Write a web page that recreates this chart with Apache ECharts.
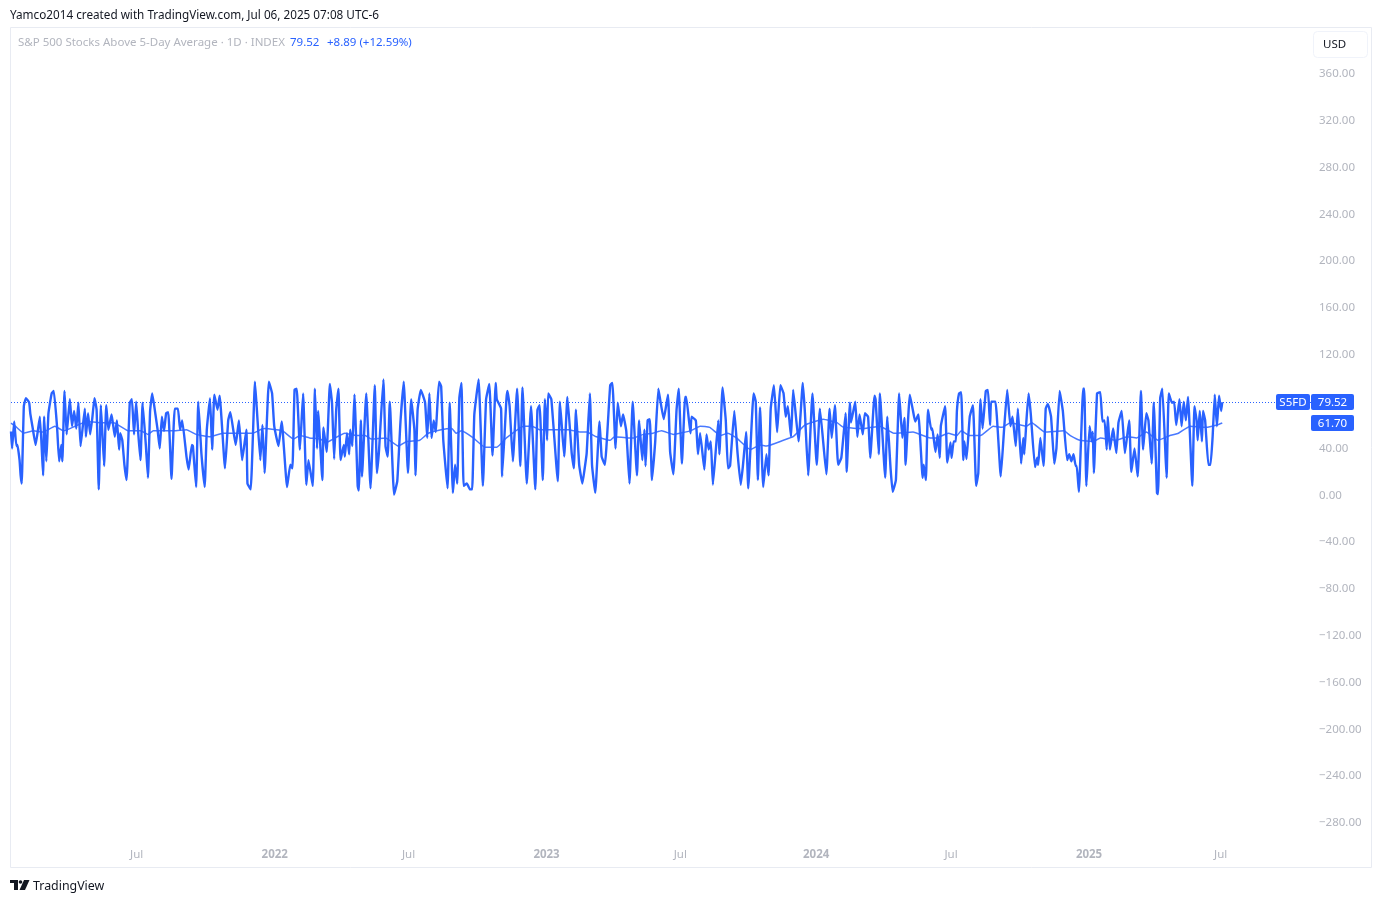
<!DOCTYPE html>
<html>
<head>
<meta charset="utf-8">
<style>html,body{margin:0;padding:0;background:#fff}#c{width:1382px;height:903px}</style>
<script src="https://cdn.jsdelivr.net/npm/echarts@6/dist/echarts.min.js"></script>
</head>
<body>
<div id="c"></div>
<script>
// [trading session number, % of stocks above the 5-day average]
const closePoints = [[0,54.5],[1,40],[3,63],[5,42],[6,43],[8,30],[9,17],[10,10],[12,76],[14,83],[17,79],[18,70],[20,59],[23,43],[27,67],[30,17],[31,67],[33,29],[35,70],[38,87],[40,89],[43,59],[45,29],[47,43],[48,29],[50,89],[52,52],[55,82],[57,59],[59,72],[61,57],[63,79],[65,42],[69,74],[70,50],[72,70],[74,52],[76,66],[78,83],[80,73],[82,5],[84,77],[87,25],[89,77],[91,56],[94,69],[97,50],[99,64],[101,39],[102,53],[104,47],[106,26],[108,13],[111,79],[113,82],[115,52],[117,80],[119,52],[121,30],[123,79],[126,43],[128,15],[130,72],[132,87],[135,69],[137,56],[139,40],[141,67],[143,55],[145,70],[147,71],[150,14],[153,74],[156,74],[158,56],[160,64],[164,33],[166,22],[169,43],[170,42],[173,7],[175,80],[178,35],[181,7],[183,56],[186,83],[188,39],[190,86],[193,73],[195,85],[200,23],[203,64],[205,71],[210,43],[213,64],[216,30],[220,56],[221,10],[224,5],[228,97],[230,70],[233,30],[235,60],[237,19],[241,97],[244,87],[246,59],[250,42],[253,63],[258,7],[261,26],[263,23],[265,90],[267,91],[270,39],[273,87],[276,9],[278,30],[282,8],[284,91],
[286,40],[287,72],[291,13],[292,58],[295,37],[298,95],[300,79],[302,31],[304,74],[306,91],[308,30],[311,43],[312,33],[314,53],[316,35],[317,56],[319,42],[321,86],[324,8],[325,4],[327,64],[328,16],[332,87],[336,6],[340,94],[342,19],[344,39],[348,99],[350,42],[352,33],[354,80],[358,0.5],[361,12],[364,63],[367,97],[371,19],[374,82],[377,56],[378,17],[380,73],[383,90],[387,79],[389,49],[391,87],[393,49],[395,64],[397,54],[398,69],[400,97],[402,93],[404,47],[408,6],[410,79],[413,2],[415,26],[417,10],[419,83],[421,96],[423,8],[426,10],[429,5],[431,5],[433,69],[437,99],[441,8],[444,82],[447,95],[450,34],[453,96],[454,82],[458,74],[459,16],[463,82],[464,89],[466,76],[469,29],[473,91],[476,25],[478,92],[482,10],[486,76],[490,5],[492,73],[494,77],[497,13],[499,82],[501,47],[502,87],[505,82],[511,12],[513,80],[517,33],[520,84],[524,36],[526,23],[528,73],[531,26],[534,10],[536,22],[538,36],[541,87],[543,26],[546,2],[550,63],[552,33],[555,26],[560,94],[562,96],[565,40],[567,79],[570,59],[572,69],[575,55],[578,10],
[581,80],[585,17],[587,64],[590,30],[592,56],[593,25],[595,64],[597,65],[599,13],[602,45],[605,91],[607,80],[610,65],[614,86],[616,37],[619,18],[622,73],[624,91],[627,27],[630,84],[631,84],[635,53],[636,67],[640,64],[642,35],[644,53],[648,22],[650,52],[652,39],[654,46],[656,9],[661,64],[662,35],[665,92],[668,64],[670,23],[672,25],[676,72],[679,36],[682,9],[684,25],[687,54],[689,6],[694,87],[696,80],[698,13],[700,75],[703,7],[706,35],[708,17],[710,74],[713,94],[716,54],[719,94],[722,87],[724,67],[726,76],[729,50],[731,90],[736,46],[740,96],[742,70],[745,17],[749,87],[753,26],[756,74],[762,18],[765,74],[767,49],[770,77],[773,26],[776,32],[780,70],[781,20],[784,79],[785,62],[789,80],[791,50],[793,69],[796,52],[798,70],[801,67],[803,32],[807,85],[808,82],[811,35],[812,87],[817,15],[819,67],[822,23],[824,3],[827,13],[830,87],[833,49],[835,66],[836,26],[840,86],[843,72],[845,63],[848,69],[852,15],[853,26],[855,13],[857,73],[860,56],[861,57],[864,37],[866,52],[868,32],
[869,59],[873,76],[875,28],[878,45],[879,32],[881,46],[883,46],[884,72],[886,87],[888,88],[890,30],[891,46],[893,31],[896,67],[899,77],[902,8],[904,19],[906,82],[908,57],[911,89],[913,90],[915,60],[916,80],[920,80],[925,16],[928,55],[931,90],[934,59],[936,67],[939,42],[941,74],[944,27],[946,49],[947,35],[949,64],[951,87],[953,70],[957,24],[959,32],[960,26],[962,49],[965,25],[967,74],[969,78],[972,67],[975,27],[977,40],[980,89],[983,72],[987,30],[989,35],[991,29],[993,35],[995,25],[996,25],[998,3],[1002,91],[1003,91],[1005,8],[1008,59],[1010,46],[1011,54],[1012,19],[1015,87],[1018,88],[1020,63],[1022,64],[1024,39],[1025,67],[1027,39],[1030,57],[1031,50],[1033,36],[1035,62],[1038,72],[1041,36],[1045,64],[1047,20],[1050,40],[1053,16],[1056,89],[1058,39],[1061,70],[1063,64],[1066,27],[1068,79],[1071,2],[1072,1],[1074,83],[1076,91],[1079,33],[1080,15],[1082,87],[1085,79],[1087,80],[1089,60],[1092,82],[1094,59],[1096,80],[1098,64],[1100,84],[1104,8],[1106,76],[1108,64],[1109,47],[1111,72],[1113,46],[1114,72],[1116,64],[1119,26],[1121,26],[1123,50],[1125,86],[1127,59],[1129,85],[1131,72],[1132,79.52]];

const averagePoints = [[0,61.6],[4,59],[12,53],[21,55],[30,54],[41,59],[49,55],[60,59],[71,63],[83,62],[96,62],[110,55],[121,55],[128,52],[133,55],[152,55],[164,56],[173,52],[186,50],[198,53],[226,53],[236,57],[248,56],[254,55],[264,48],[270,51],[279,49],[289,48],[295,45],[301,48],[312,53],[323,51],[331,51],[337,48],[350,49],[362,42],[370,46],[382,47],[390,53],[402,56],[412,57],[416,53],[421,55],[432,49],[443,41],[454,41],[463,49],[479,59],[487,59],[494,56],[521,56],[532,54],[538,54],[547,50],[560,47],[564,50],[577,49],[582,49],[591,52],[600,53],[608,55],[619,52],[635,55],[644,59],[653,58],[663,51],[670,53],[678,49],[691,39],[700,43],[706,42],[722,47],[731,50],[742,60],[759,65],[772,62],[778,58],[797,57],[812,59],[825,53],[843,54],[859,49],[865,49],[876,53],[884,51],[888,55],[896,51],[906,51],[918,59],[926,58],[934,62],[949,59],[954,62],[966,54],[984,55],[990,51],[999,47],[1012,46],[1018,49],[1033,47],[1043,50],[1052,49],[1061,54],[1072,47],[1083,51],[1091,53],[1102,59],[1117,58],[1127,60],[1132,61.7]];

const xTickSessions = [117.5,246.5,371.5,500.5,625.5,752.5,878.5,1007.5,1130.5];
const xTickLabels = ['Jul','2022','Jul','2023','Jul','2024','Jul','2025','Jul'];
const yTicks = [-280,-240,-200,-160,-120,-80,-40,0,40,120,160,200,240,280,320,360];
const lastClose = 79.52;
const lastAverage = 61.70;
const ticker = 'S5FD';

const FONT = '"Noto Sans", sans-serif';
const SIZE = 11.5;
const BLUE = '#2962ff';
const GREY = '#b2b5be';
const chart = echarts.init(document.getElementById('c'), null, {renderer:'canvas'});

function tag(xLeft, width, y, text){
  return [
    {type:'rect', z:100, shape:{x:xLeft, y:y-8, width:width, height:16, r:2}, style:{fill:BLUE}},
    {type:'text', z:101, x:xLeft+width/2, y:y+1, style:{text:text, fill:'#fff', font:SIZE+'px '+FONT, align:'center', verticalAlign:'middle'}}
  ];
}
function label(x, y, text, fill, size){
  return {type:'text', z:50, x:x, y:y, style:{text:text, fill:fill, font:(size||SIZE)+'px '+FONT, verticalAlign:'middle'}};
}

chart.setOption({
  animation:false,
  backgroundColor:'#fff',
  grid:{left:11, right:69, top:27, bottom:63, containLabel:false},
  xAxis:{
    type:'value', min:0, max:1216.8,
    splitLine:{show:false}, axisLine:{show:false}, axisTick:{show:false},
    axisLabel:{
      customValues:xTickSessions, margin:9,
      fontFamily:FONT, fontSize:SIZE, color:GREY, hideOverlap:false,
      formatter:v=>{
        const t = xTickLabels[xTickSessions.indexOf(v)] || '';
        return t==='Jul' ? t : '{y|'+t+'}';
      },
      rich:{y:{fontFamily:FONT, fontSize:SIZE, fontWeight:'bold', color:GREY}}
    }
  },
  yAxis:{
    type:'value', position:'right', min:-294.5, max:400,
    splitLine:{show:false}, axisLine:{show:false}, axisTick:{show:false},
    axisLabel:{
      customValues:yTicks, margin:6, align:'left', padding:[3,0,0,0],
      fontFamily:FONT, fontSize:SIZE, color:GREY,
      formatter:v=>v.toFixed(2).replace('-','\u2212')
    }
  },
  series:[
    {type:'line', name:'S5FD', data:closePoints, showSymbol:false, smooth:0.12,
     lineStyle:{color:BLUE, width:2.4}, z:3,
     markLine:{silent:true, symbol:'none', animation:false, label:{show:false},
       lineStyle:{color:BLUE, type:[1,2], width:1}, data:[{yAxis:lastClose}]}},
    {type:'line', name:'Average', data:averagePoints, showSymbol:false, smooth:0.12,
     lineStyle:{color:BLUE, width:1.5, opacity:0.85}, z:4}
  ]
});

const yClose = Math.round(chart.convertToPixel({yAxisIndex:0}, lastClose));
const yAvg = Math.round(chart.convertToPixel({yAxisIndex:0}, lastAverage));
chart.setOption({
  graphic:[
    {type:'rect', z:1, shape:{x:10.5, y:27.5, width:1361, height:840}, style:{fill:'none', stroke:'#e8ebf2', lineWidth:1}},
    {type:'rect', z:2, shape:{x:1313.5, y:31.5, width:54, height:26, r:4}, style:{fill:'#fff', stroke:'#f0f3fa', lineWidth:1}},
    {type:'text', z:50, x:1323, y:45, style:{text:'USD', fill:'#131722', font:SIZE+'px '+FONT, verticalAlign:'middle'}},
    label(10, 16, 'Yamco2014 created with TradingView.com, Jul 06, 2025 07:08 UTC-6', '#131722', 11.72),
    label(18, 43, 'S&P 500 Stocks Above 5-Day Average \u00b7 1D \u00b7 INDEX', GREY),
    label(290, 43, lastClose.toFixed(2), BLUE),
    label(327, 43, '+8.89 (+12.59%)', BLUE),
    ...tag(1276, 34, yClose, ticker),
    ...tag(1311, 43, yClose, lastClose.toFixed(2)),
    ...tag(1311, 43, yAvg, lastAverage.toFixed(2)),
    {type:'rect', z:50, shape:{x:10, y:880, width:8, height:3}, style:{fill:'#131722'}},
    {type:'rect', z:50, shape:{x:14, y:880, width:4, height:10}, style:{fill:'#131722'}},
    {type:'circle', z:50, shape:{cx:20.5, cy:882, r:1.8}, style:{fill:'#131722'}},
    {type:'polygon', z:50, shape:{points:[[24,880],[29.5,880],[25,890],[19.5,890]]}, style:{fill:'#131722'}},
    {type:'text', z:50, x:33, y:886, style:{text:'TradingView', fill:'#131722', font:'12.4px '+FONT, verticalAlign:'middle'}}
  ]
});
</script>
</body>
</html>
